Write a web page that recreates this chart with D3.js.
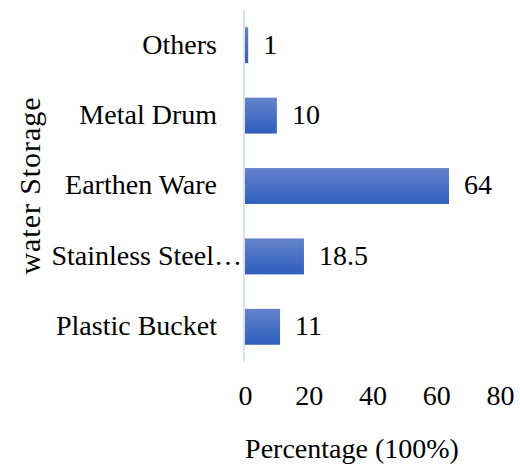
<!DOCTYPE html>
<html>
<head>
<meta charset="utf-8">
<script src="https://cdn.jsdelivr.net/npm/d3@7"></script>
<style>
  html, body { margin: 0; padding: 0; background: #fff; }
  svg text { font-family: "Liberation Serif", "Times New Roman", serif; fill: #000; }
</style>
</head>
<body>
<svg id="chart" width="520" height="466"></svg>
<script>
const categories = ["Others", "Metal Drum", "Earthen Ware", "Stainless Steel\u2026", "Plastic Bucket"];
const values = [1, 10, 64, 18.5, 11];
const valueLabels = ["1", "10", "64", "18.5", "11"];
const xTicks = [0, 20, 40, 60, 80];
const xTitle = "Percentage (100%)";
const yTitle = "water Storage";

const svg = d3.select("#chart");
const margin = { left: 245, top: 10 };

const x = d3.scaleLinear().domain([0, 80]).range([margin.left, 500]);
const y = d3.scaleBand().domain(categories).range([margin.top, 362]).paddingInner(0.49).paddingOuter(0.245);

const defs = svg.append("defs");
const grad = defs.append("linearGradient").attr("id", "barGrad")
  .attr("x1", 0).attr("y1", 0).attr("x2", 0).attr("y2", 1);
grad.append("stop").attr("offset", "0%").attr("stop-color", "#6483cb");
grad.append("stop").attr("offset", "100%").attr("stop-color", "#2e5ebe");

// bars
svg.append("g").selectAll("rect").data(categories).join("rect")
  .attr("x", x(0))
  .attr("y", d => y(d))
  .attr("width", (d, i) => x(values[i]) - x(0))
  .attr("height", y.bandwidth())
  .attr("fill", "url(#barGrad)");

// vertical axis line
svg.append("line")
  .attr("x1", x(0) - 1).attr("x2", x(0) - 1)
  .attr("y1", 10).attr("y2", 362)
  .attr("stroke", "#dde2ea").attr("stroke-width", 2);

// category labels (truncated label sits closer to the axis, as in the original)
svg.append("g").selectAll("text").data(categories).join("text")
  .attr("x", d => d.endsWith("\u2026") ? x(0) - 3 : 217)
  .attr("y", d => y(d) + y.bandwidth() / 2)
  .attr("dy", "0.3em")
  .attr("text-anchor", "end")
  .attr("font-size", 28)
  .text(d => d);

// value labels
svg.append("g").selectAll("text").data(categories).join("text")
  .attr("x", (d, i) => x(values[i]) + 15)
  .attr("y", d => y(d) + y.bandwidth() / 2)
  .attr("dy", "0.3em")
  .attr("font-size", 28)
  .text((d, i) => valueLabels[i]);

// x axis tick labels
const xAxis = d3.axisBottom(x).tickValues(xTicks).tickSize(0).tickPadding(0).tickFormat(d3.format("d"));
const gx = svg.append("g").attr("transform", "translate(0,386)").call(xAxis);
gx.select(".domain").remove();
gx.selectAll("text").attr("font-size", 28).attr("font-family", "Liberation Serif, serif").attr("fill", "#000").attr("dy", "0.68em");

// axis titles
svg.append("text")
  .attr("x", 352).attr("y", 458)
  .attr("text-anchor", "middle")
  .attr("font-size", 28)
  .text(xTitle);

svg.append("text")
  .attr("transform", "translate(40,186) rotate(-90)")
  .attr("text-anchor", "middle")
  .attr("font-size", 30)
  .attr("textLength", 177)
  .attr("lengthAdjust", "spacing")
  .text(yTitle);
</script>
</body>
</html>
